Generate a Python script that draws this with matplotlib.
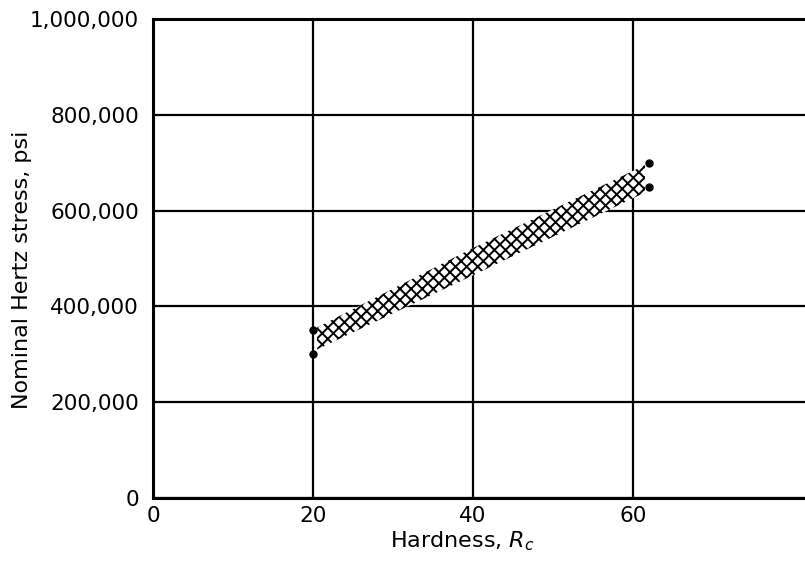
import matplotlib
matplotlib.use("Agg")
import matplotlib.pyplot as plt

plt.rcParams['font.family'] = ['DejaVu Sans']
plt.rcParams['hatch.linewidth'] = 1.4

# data
band_x = [20.5, 40, 61.5]
band_lower = [310000, 465000, 638000]
band_upper = [356000, 522000, 695000]
pt_x = [20, 20, 62, 62]
pt_y = [350000, 300000, 700000, 650000]
xticks = [0, 20, 40, 60]
yticks = [0, 200000, 400000, 600000, 800000, 1000000]
ytick_labels = ["0", "200,000", "400,000", "600,000", "800,000", "1,000,000"]

fig = plt.figure(figsize=(8.05, 5.61), dpi=100)
ax = fig.add_axes([0.190, 0.1123, 0.81, 0.8537])

ax.fill_between(band_x, band_lower, band_upper, facecolor='white',
                edgecolor='black', hatch='xxx', linewidth=0, zorder=3)
ax.plot(pt_x, pt_y, 'o', color='black', markersize=5, zorder=4)

ax.set_xlim(0, 81.5)
ax.set_ylim(0, 1000000)
ax.set_xticks(xticks)
ax.set_xticklabels([str(v) for v in xticks], fontsize=15.5)
ax.set_yticks(yticks)
ax.set_yticklabels(ytick_labels, fontsize=15.5)
ax.tick_params(length=0)
ax.tick_params(axis='y', pad=10)
ax.tick_params(axis='x', pad=6)

ax.grid(True, color='black', linewidth=1.6)
ax.set_axisbelow(True)
for s in ['left', 'bottom', 'top']:
    ax.spines[s].set_linewidth(2.2)
ax.spines['right'].set_visible(False)

ax.set_xlabel("Hardness, $R_c$", fontsize=16)
ax.set_ylabel("Nominal Hertz stress, psi", fontsize=16)
ax.xaxis.set_label_coords(0.474, -0.066)
ax.yaxis.set_label_coords(-0.186, 0.476)

fig.savefig("out.png", dpi=100)
